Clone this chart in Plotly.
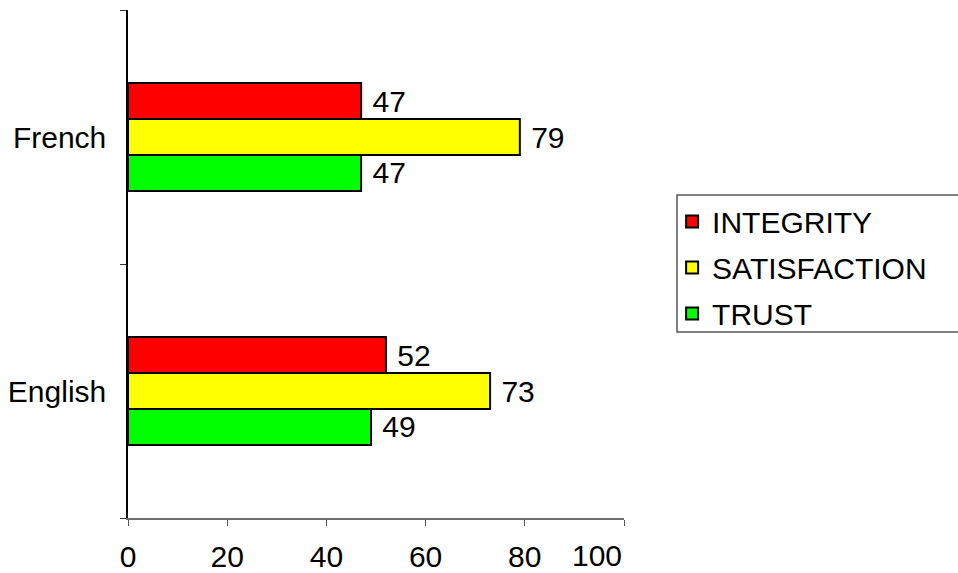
import plotly.graph_objects as go

# Survey scores by language group
languages = ["English", "French"]
integrity = [52, 47]
satisfaction = [73, 79]
trust = [49, 47]

x_ticks = [0, 20, 40, 60, 80, 100]
x_tick_labels = [str(v) for v in x_ticks]

FONT = "Liberation Sans, Arial, sans-serif"

fig = go.Figure()

# Plotly stacks grouped horizontal bars bottom-up in trace order,
# so TRUST goes first to end up at the bottom of each group;
# legendrank puts INTEGRITY at the top of the legend.
series = [
    ("TRUST", trust, "#00FF00", 3),
    ("SATISFACTION", satisfaction, "#FFFF00", 2),
    ("INTEGRITY", integrity, "#FF0000", 1),
]
for name, vals, color, rank in series:
    fig.add_trace(go.Bar(
        name=name,
        y=languages,
        x=vals,
        orientation="h",
        marker=dict(color=color, line=dict(color="black", width=2)),
        text=vals,
        texttemplate="\u00a0%{x}",
        textposition="outside",
        constraintext="none",
        cliponaxis=False,
        textfont=dict(family=FONT, size=30, color="black"),
        legendgroup=name,
        legendrank=rank,
    ))

# The last x tick label sits flush left of its tick
tick_text = x_tick_labels[:-1] + [""]

fig.update_layout(
    width=958,
    height=573,
    margin=dict(l=128, r=334, t=10, b=55),
    paper_bgcolor="white",
    plot_bgcolor="white",
    barmode="group",
    bargap=0.575,
    bargroupgap=0,
    font=dict(family=FONT, size=30, color="black"),
    showlegend=True,
    legend=dict(
        x=1.097,
        xanchor="left",
        y=0.635,
        yanchor="top",
        traceorder="grouped",
        tracegroupgap=4,
        font=dict(family=FONT, size=30, color="black"),
        bgcolor="rgba(0,0,0,0)",
        borderwidth=0,
    ),
    xaxis=dict(
        range=[0, 100],
        tickvals=x_ticks,
        ticktext=tick_text,
        ticks="outside",
        ticklen=6,
        tickwidth=1,
        tickcolor="#555555",
        ticklabelstandoff=5,
        automargin=False,
        showline=True,
        linecolor="#6e6e6e",
        linewidth=2,
        showgrid=False,
        zeroline=False,
        tickfont=dict(family=FONT, size=30, color="black"),
    ),
    yaxis=dict(
        categoryorder="array",
        categoryarray=languages,
        range=[-0.5, 1.5],
        tickson="boundaries",
        ticks="outside",
        ticklen=6,
        tickwidth=1,
        tickcolor="#333333",
        ticklabelstandoff=14,
        automargin=False,
        showline=True,
        linecolor="black",
        linewidth=1.5,
        showgrid=False,
        zeroline=False,
        tickfont=dict(family=FONT, size=30, color="black"),
    ),
    annotations=[
        dict(text=x_tick_labels[-1], x=x_ticks[-1], xref="x",
             y=0, yref="paper", xanchor="right", yanchor="top",
             yshift=-19, xshift=0, showarrow=False,
             font=dict(family=FONT, size=30, color="black")),
    ],
    shapes=[
        # legend frame, running off the right edge of the canvas
        dict(type="rect", xref="paper", yref="paper",
             x0=(677 - 128) / 496, x1=(965 - 128) / 496,
             y0=(518 - 332) / 508, y1=(518 - 195) / 508,
             line=dict(color="#555555", width=1.5), fillcolor="rgba(0,0,0,0)"),
    ],
)

fig.write_html("out.html")
